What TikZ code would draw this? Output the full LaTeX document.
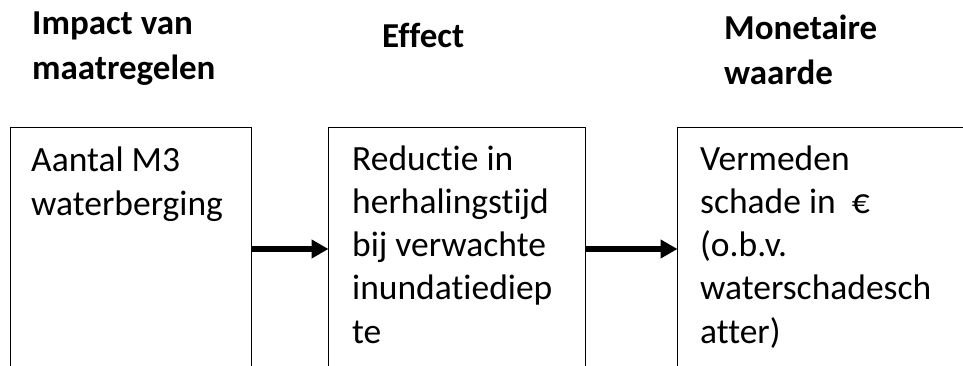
\documentclass[tikz,border=0pt]{standalone}
\usepackage{fontspec}
\setmainfont{Carlito}[Ligatures=NoCommon]
\usetikzlibrary{arrows.meta}
\tikzset{
  stagebox/.style={draw=black, line width=1.3pt, rectangle, inner sep=0pt, anchor=north west},
  bodytext/.style={anchor=base west, inner sep=0pt, align=left, font=\fontsize{35.5}{43.3}\selectfont},
  headtext/.style={anchor=base west, inner sep=0pt, align=left, font=\fontsize{35}{45}\selectfont\bfseries},
  flow/.style={line width=5.5pt, -{Triangle[length=17pt,width=18pt]}, shorten >=-0.5pt},
}
\begin{document}
\begin{tikzpicture}[x=1pt,y=1pt]
\useasboundingbox (0,0) rectangle (963,-366);
\clip (0,0) rectangle (963,-366);
% headers (anchored at the baseline of their last line)
\node[headtext] (h1) at (32,-80) {Impact van\\maatregelen};
\node[headtext] (h2) at (382,-48) {Effect};
\node[headtext] (h3) at (724,-85) {Monetaire\\waarde};
% boxes (extend below the visible area)
\node[stagebox, minimum width=241pt, minimum height=260pt] (b1) at (9.5,-127) {};
\node[stagebox, minimum width=257pt, minimum height=260pt] (b2) at (328,-127) {};
\node[stagebox, minimum width=320pt, minimum height=260pt] (b3) at (677,-127) {};
% box texts (anchored at the baseline of their last line)
\node[bodytext] (t1) at (31,-215.3) {Aantal M3\\waterberging};
\node[bodytext] (t2) at (352,-343.2) {Reductie in\\herhalingstijd\\bij verwachte\\inundatiediep\\te};
\node[bodytext] (t3) at (700,-343.2) {Vermeden\\schade in\ \ €\\(o.b.v.\\waterschadesch\\atter)};
% arrows
\coordinate (arrowy) at (0,-249);
\draw[flow] (b1.east |- arrowy) -- (b2.west |- arrowy);
\draw[flow] (b2.east |- arrowy) -- (b3.west |- arrowy);
\end{tikzpicture}
\end{document}
